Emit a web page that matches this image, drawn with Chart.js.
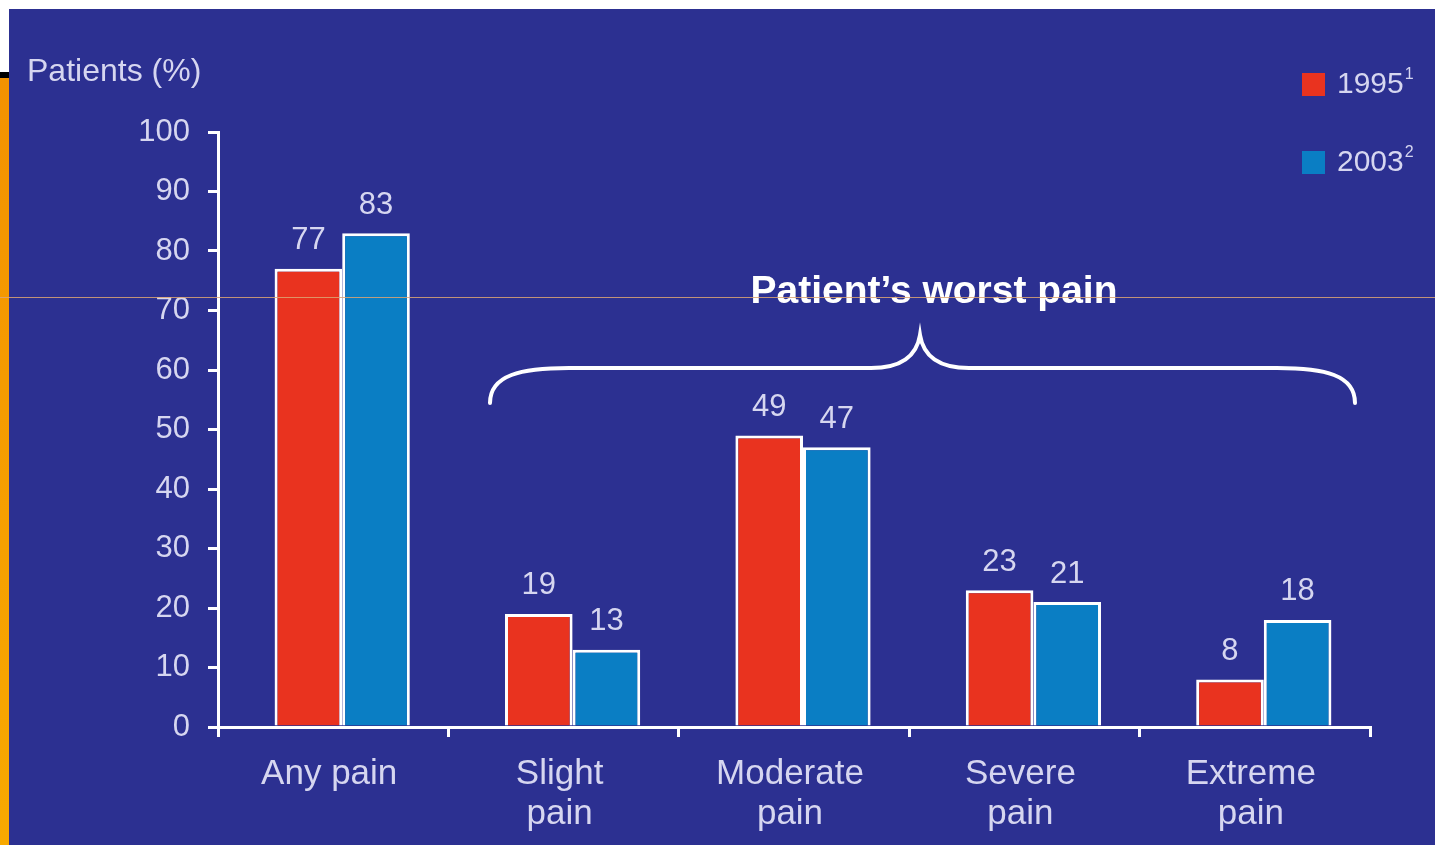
<!DOCTYPE html>
<html>
<head>
<meta charset="utf-8">
<script src="https://cdn.jsdelivr.net/npm/chart.js@4"></script>
<style>
  body { margin: 0; width: 1435px; height: 845px; background: #fff; overflow: hidden; position: relative; font-family: "Liberation Sans", Arial, sans-serif; }
  .panel { position: absolute; left: 9px; top: 9px; width: 1426px; height: 836px; background: #2c3091; }
  .side-black { position: absolute; left: 0; top: 72px; width: 9px; height: 6px; background: #000; }
  .side-orange { position: absolute; left: 0; top: 78px; width: 9px; height: 767px; background: linear-gradient(#f39200, #f8a900); }
  .rule { position: absolute; left: 0; top: 297px; width: 1435px; height: 1px; background: rgba(220, 165, 115, 0.85); z-index: 5; }
</style>
</head>
<body>
<div class="side-black"></div>
<div class="side-orange"></div>
<div class="panel"><canvas id="chart" width="1426" height="836"></canvas></div>
<div class="rule"></div>
<script>
const categories = ["Any pain", ["Slight", "pain"], ["Moderate", "pain"], ["Severe", "pain"], ["Extreme", "pain"]];
const values1995 = [77, 19, 49, 23, 8];
const values2003 = [83, 13, 47, 21, 18];
const yTicks = [0, 10, 20, 30, 40, 50, 60, 70, 80, 90, 100];

const lavender = "#d6d6f0";
const red = "#e9331f";
const blue = "#0a7ec4";
const barShift = 9; // bars sit a little right of the category centres

const decorPlugin = {
  id: "decor",
  beforeDatasetsDraw(chart) {
    chart.ctx.save();
    chart.ctx.translate(barShift, 0);
  },
  afterDatasetsDraw(chart) {
    const ctx = chart.ctx;
    ctx.restore();

    // value labels
    ctx.save();
    ctx.fillStyle = lavender;
    ctx.font = "31px 'Liberation Sans', Arial, sans-serif";
    ctx.textAlign = "center";
    ctx.textBaseline = "middle";
    chart.data.datasets.forEach((ds, i) => {
      chart.getDatasetMeta(i).data.forEach((bar, j) => {
        ctx.fillText(String(ds.data[j]), bar.x + barShift, bar.y - 28);
      });
    });

    // y title
    ctx.textAlign = "left";
    ctx.font = "32px 'Liberation Sans', Arial, sans-serif";
    ctx.fillText("Patients (%)", 18, 63);

    // legend
    const legend = [
      { label: "1995", sup: "1", color: red, y: 75 },
      { label: "2003", sup: "2", color: blue, y: 153 },
    ];
    legend.forEach((item) => {
      ctx.fillStyle = item.color;
      ctx.fillRect(1293, item.y - 11, 23, 23);
      ctx.fillStyle = lavender;
      ctx.font = "30px 'Liberation Sans', Arial, sans-serif";
      ctx.fillText(item.label, 1328, item.y + 1);
      const w = ctx.measureText(item.label).width;
      ctx.font = "16px 'Liberation Sans', Arial, sans-serif";
      ctx.fillText(item.sup, 1328 + w + 1, item.y - 9);
    });

    // group title and brace
    ctx.fillStyle = "#ffffff";
    ctx.font = "bold 39px 'Liberation Sans', Arial, sans-serif";
    ctx.textAlign = "center";
    ctx.fillText("Patient\u2019s worst pain", 925, 283);

    ctx.strokeStyle = "#ffffff";
    ctx.lineWidth = 4;
    ctx.lineCap = "round";
    ctx.beginPath();
    ctx.moveTo(481, 394);
    ctx.bezierCurveTo(481, 366, 512, 359, 560, 359);
    ctx.lineTo(862, 359);
    ctx.bezierCurveTo(895, 359, 908, 345, 911, 326);
    ctx.bezierCurveTo(914, 345, 927, 359, 960, 359);
    ctx.lineTo(1268, 359);
    ctx.bezierCurveTo(1316, 359, 1346, 366, 1346, 394);
    ctx.stroke();
    ctx.restore();
  },
};

new Chart(document.getElementById("chart"), {
  type: "bar",
  data: {
    labels: categories,
    datasets: [
      { label: "1995", data: values1995, backgroundColor: red, borderColor: "#ffffff", borderWidth: 3 },
      { label: "2003", data: values2003, backgroundColor: blue, borderColor: "#ffffff", borderWidth: 3 },
    ],
  },
  options: {
    responsive: false,
    animation: false,
    devicePixelRatio: 1,
    categoryPercentage: 0.587,
    barPercentage: 1,
    layout: { padding: { top: 123, right: 65, left: 0, bottom: 0 } },
    plugins: { legend: { display: false }, tooltip: { enabled: false } },
    scales: {
      x: {
        afterFit: (scale) => { scale.height = 118; },
        border: { color: "#ffffff", width: 3 },
        grid: { offset: true, drawOnChartArea: false, drawTicks: true, tickLength: 10, color: "#ffffff", lineWidth: 3 },
        ticks: {
          color: lavender,
          padding: 17,
          labelOffset: -4,
          maxRotation: 0,
          autoSkip: false,
          font: { family: "'Liberation Sans', Arial, sans-serif", size: 35, lineHeight: 1.15 },
        },
      },
      y: {
        min: 0,
        max: 100,
        afterFit: (scale) => { scale.width = 209; },
        afterBuildTicks: (scale) => { scale.ticks = yTicks.map((v) => ({ value: v })); },
        border: { color: "#ffffff", width: 3 },
        grid: { drawOnChartArea: false, drawTicks: true, tickLength: 10, color: "#ffffff", lineWidth: 3 },
        ticks: {
          color: lavender,
          padding: 18,
          font: { family: "'Liberation Sans', Arial, sans-serif", size: 31 },
        },
      },
    },
  },
  plugins: [decorPlugin],
});
</script>
</body>
</html>
